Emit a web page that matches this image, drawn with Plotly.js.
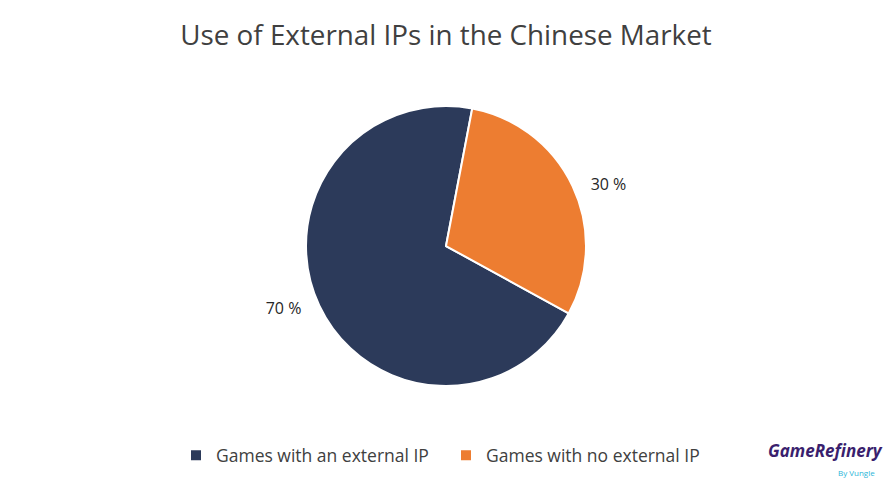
<!DOCTYPE html>
<html>
<head>
<meta charset="utf-8">
<script src="https://cdn.plot.ly/plotly-3.0.1.min.js"></script>
<style>html,body{margin:0;padding:0;background:#fff;}#chart{width:892px;height:487px;}</style>
</head>
<body>
<div id="chart"></div>
<script>
const categories = ["Games with an external IP", "Games with no external IP"];
const shares = [70, 30];
const colors = ["#2c3a5a", "#ed7d31"];

const pad = "\u00a0\u00a0\u00a0";
const trace = {
  type: "pie",
  labels: categories,
  values: shares,
  sort: false,
  direction: "clockwise",
  rotation: 118.8,
  marker: {colors: colors, line: {color: "#ffffff", width: 2}},
  texttemplate: ["%{value} %" + pad, pad + "%{value} %"],
  textposition: "outside",
  textfont: {family: "Open Sans, sans-serif", size: 16, color: "#262626"},
  hoverinfo: "label+value",
  domain: {x: [0.343, 0.657], y: [0.2074, 0.7823]}
};

const layout = {
  width: 892, height: 487,
  margin: {l: 0, r: 0, t: 0, b: 0},
  paper_bgcolor: "#ffffff",
  title: {text: "Use of External IPs in the Chinese Market", x: 0.5, xanchor: "center", y: 0.927, yanchor: "middle",
          font: {family: "Open Sans, sans-serif", size: 27.8, color: "#404040"}},
  showlegend: true,
  legend: {orientation: "h", x: 0.5, xanchor: "center", y: 0.065, yanchor: "middle", entrywidth: 225,
           font: {family: "Open Sans, sans-serif", size: 17.5, color: "#404040"}, itemwidth: 30, traceorder: "normal"},
  annotations: [
    {text: "<b><i>GameRefinery</i></b>", x: 0.925, y: 0.075, xref: "paper", yref: "paper", xanchor: "center", yanchor: "middle",
     showarrow: false, font: {family: "Open Sans, sans-serif", size: 17, color: "#3a1f6e"}},
    {text: "By Vungle", x: 0.96, y: 0.03, xref: "paper", yref: "paper", xanchor: "center", yanchor: "middle",
     showarrow: false, font: {family: "Open Sans, sans-serif", size: 8, color: "#2bb5d8"}}
  ]
};

Plotly.newPlot("chart", [trace], layout, {displayModeBar: false, staticPlot: true});
</script>
</body>
</html>
